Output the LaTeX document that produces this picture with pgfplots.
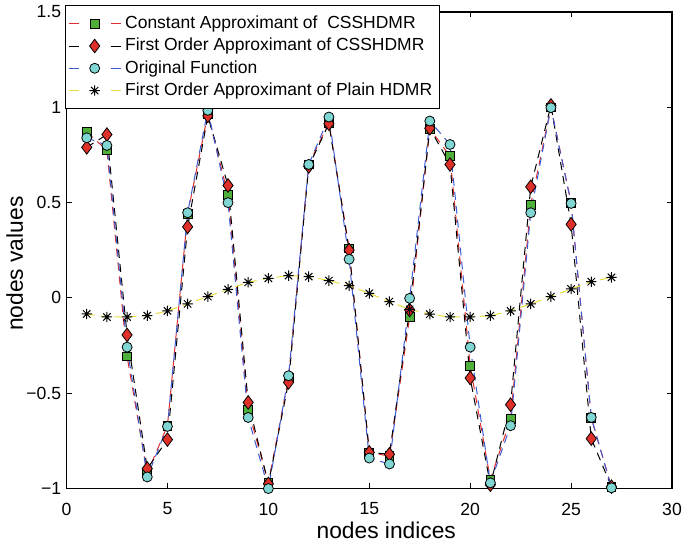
\documentclass[border=0pt]{standalone}
\usepackage{fontspec}
\setmainfont{Liberation Sans}
\usepackage{pgfplots}
\usepackage{pgfplotstable}
\pgfplotsset{compat=1.18}

% MATLAB-like '*' marker: plus and cross together
\pgfdeclareplotmark{mstar}{%
  \pgfpathmoveto{\pgfqpoint{-\pgfplotmarksize}{0pt}}\pgfpathlineto{\pgfqpoint{\pgfplotmarksize}{0pt}}%
  \pgfpathmoveto{\pgfqpoint{0pt}{-\pgfplotmarksize}}\pgfpathlineto{\pgfqpoint{0pt}{\pgfplotmarksize}}%
  \pgfpathmoveto{\pgfqpoint{-0.707\pgfplotmarksize}{-0.707\pgfplotmarksize}}\pgfpathlineto{\pgfqpoint{0.707\pgfplotmarksize}{0.707\pgfplotmarksize}}%
  \pgfpathmoveto{\pgfqpoint{-0.707\pgfplotmarksize}{0.707\pgfplotmarksize}}\pgfpathlineto{\pgfqpoint{0.707\pgfplotmarksize}{-0.707\pgfplotmarksize}}%
  \pgfusepathqstroke}

\definecolor{cgreen}{RGB}{78,176,58}
\definecolor{cred}{RGB}{222,48,40}
\definecolor{ccyan}{RGB}{128,214,210}
\definecolor{lred}{RGB}{225,45,45}
\definecolor{lblue}{RGB}{60,90,210}
\definecolor{lyellow}{RGB}{230,222,60}

% idx, constant approx, first order approx, original, plain HDMR
\pgfplotstableread{
idx  c      f      o      p
1    0.87   0.79   0.84  -0.084
2    0.775  0.857  0.80  -0.100
3   -0.307 -0.194 -0.258 -0.100
4   -0.92  -0.895 -0.939 -0.093
5   -0.67  -0.743 -0.674 -0.068
6    0.44   0.373  0.447 -0.031
7    0.965  0.955  0.984  0.007
8    0.54   0.59   0.50   0.045
9   -0.586 -0.548 -0.627  0.082
10  -0.97  -0.975 -1.00   0.103
11  -0.42  -0.443 -0.408  0.117
12   0.70   0.69   0.70   0.112
13   0.92   0.914  0.949  0.091
14   0.26   0.251  0.203  0.064
15  -0.81  -0.81  -0.84   0.024
16  -0.83  -0.82  -0.871 -0.019
17  -0.10  -0.063 -0.002 -0.060
18   0.888  0.89   0.928 -0.085
19   0.743  0.70   0.805 -0.100
20  -0.356 -0.42  -0.258 -0.100
21  -0.953 -0.98  -0.97  -0.093
22  -0.635 -0.56  -0.67  -0.068
23   0.49   0.583  0.447 -0.031
24   1.00   1.01   0.998  0.007
25   0.50   0.386  0.496  0.047
26  -0.63  -0.738 -0.627  0.085
27  -0.99  -0.99  -0.996  0.108
}\datatab

\begin{document}
\begin{tikzpicture}
\begin{axis}[
  name=ax,
  scale only axis,
  width=303pt, height=238.5pt,
  xmin=0, xmax=30, ymin=-1, ymax=1.5,
  xtick={0,5,...,30},
  ytick={-1,-0.5,0,0.5,1,1.5},
  yticklabels={−1,−0.5,0,0.5,1,1.5},
  tick align=inside,
  major tick length=2.7pt,
  axis line style={line width=0.6pt},
  every tick/.style={black, line width=0.5pt},
  tick label style={font=\fontsize{8.8}{10}\selectfont},
  /pgf/number format/assume math mode=true,
  yticklabel style={xshift=0.8pt},
  xticklabel style={yshift=-3.6pt},
  xlabel={nodes indices},
  ylabel={nodes values},
  every axis x label/.style={at={([shift={(8.5pt,-25pt)}]axis description cs:0.5,0)}, anchor=base,
    font=\fontsize{11.4}{13}\selectfont},
  every axis y label/.style={at={([shift={(-21.8pt,-6.7pt)}]axis description cs:0,0.5)}, anchor=base, rotate=90,
    font=\fontsize{11.4}{13}\selectfont},
  legend cell align=left,
  legend style={at={(-0.003,1.015)}, anchor=north west, draw=black,
    line width=0.5pt, font=\fontsize{8.75}{10}\selectfont,
    row sep=-0.7pt, inner xsep=1.5pt, inner ysep=3.3pt, fill=white},
  legend image code/.code={%
    \draw[#1, mark=none, dash pattern=on 5pt off 16pt] (0pt,0pt) -- (26pt,0pt);
    \draw[#1, only marks] plot coordinates {(13pt,0pt)};
  },
  every axis plot/.append style={line width=0.5pt, dash pattern=on 4pt off 3pt},
]
\addplot[lred, mark=square*, mark size=2.2pt, mark options={solid, draw=black, fill=cgreen, line width=0.4pt}] table[x=idx, y=c] {\datatab};
\addlegendentry{Constant Approximant of\ \ CSSHDMR}
\addplot[black, mark=diamond*, mark size=3.4pt, mark options={solid, draw=black, fill=cred, line width=0.4pt}] table[x=idx, y=f] {\datatab};
\addlegendentry{First Order Approximant of CSSHDMR}
\addplot[lblue, mark=*, mark size=2.5pt, mark options={solid, draw=black, fill=ccyan, line width=0.4pt}] table[x=idx, y=o] {\datatab};
\addlegendentry{Original Function}
\addplot[lyellow, mark=mstar, mark size=2.6pt, mark options={solid, draw=black, line width=0.5pt}] table[x=idx, y=p] {\datatab};
\addlegendentry{First Order Approximant of Plain HDMR}
\end{axis}
\pgfresetboundingbox
\path ([shift={(-33.3pt,-28pt)}]ax.south west) rectangle ([shift={(5pt,6pt)}]ax.north east);
\end{tikzpicture}
\end{document}
